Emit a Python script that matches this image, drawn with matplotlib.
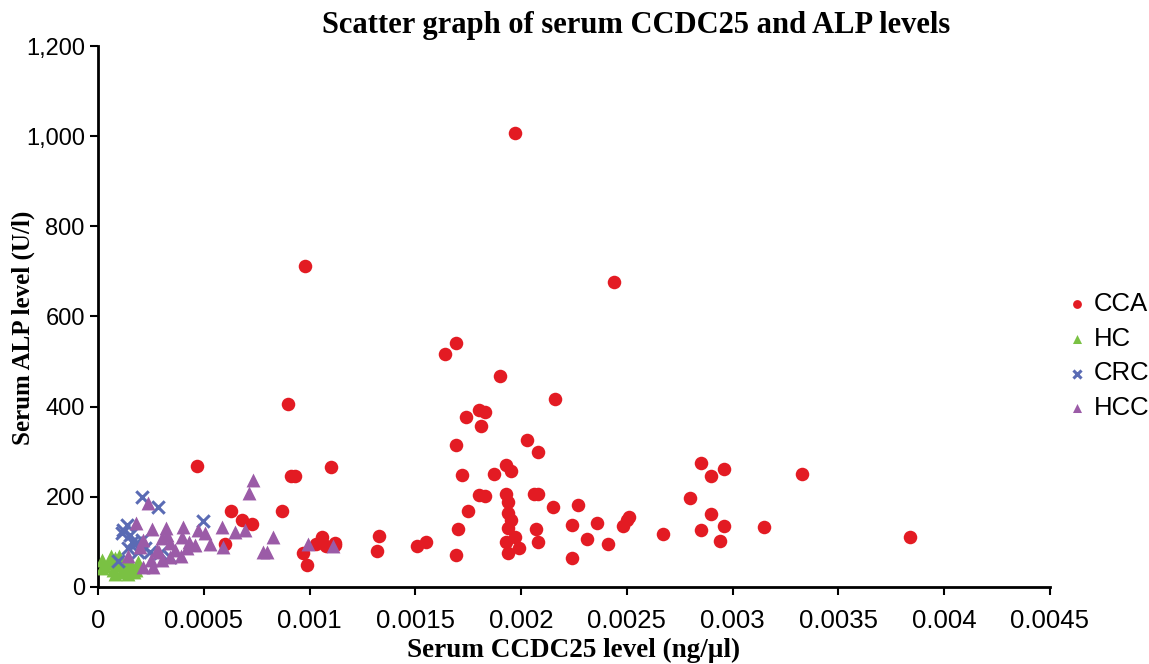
import numpy as np
import matplotlib.pyplot as plt
from matplotlib.ticker import FuncFormatter

# --- data (CCDC25 ng/ul, ALP U/l) ---
cca_x = [0.00197, 0.00098, 0.00244, 0.00164, 0.00169, 0.00190, 0.00216, 0.00090, 0.00174, 0.00180,
         0.00183, 0.00181, 0.00169, 0.00203, 0.00110, 0.00047, 0.00091, 0.00093, 0.00172, 0.00187,
         0.00193, 0.00195, 0.00208, 0.00180, 0.00183, 0.00193, 0.00206, 0.00208, 0.00175, 0.00194,
         0.00215, 0.00227, 0.00087, 0.00063, 0.00068, 0.00073, 0.00060, 0.00097, 0.00099, 0.00106,
         0.00103, 0.00108, 0.00112, 0.00112, 0.00133, 0.00132, 0.00151, 0.00155, 0.00169, 0.00170,
         0.00194, 0.00195, 0.00194, 0.00197, 0.00193, 0.00207, 0.00208, 0.00199, 0.00194, 0.00224,
         0.00231, 0.00224, 0.00236, 0.00241, 0.00248, 0.00250, 0.00251, 0.00267, 0.00280, 0.00285,
         0.00290, 0.00296, 0.00290, 0.00296, 0.00285, 0.00294, 0.00315, 0.00333, 0.00384]
cca_y = [1008, 712, 677, 517, 541, 468, 417, 405, 377, 393,
         388, 357, 315, 326, 266, 268, 246, 246, 248, 251,
         271, 257, 299, 204, 202, 206, 206, 206, 169, 189,
         178, 182, 169, 169, 149, 140, 95, 75, 49, 111,
         96, 91, 98, 93, 113, 80, 91, 100, 71, 129,
         164, 149, 131, 111, 100, 129, 100, 87, 75, 138,
         106, 64, 142, 95, 135, 149, 155, 118, 197, 275,
         246, 262, 162, 135, 126, 102, 133, 251, 111]

hc_x = [0.00002, 0.00003, 0.00005, 0.00007, 0.00008, 0.00009, 0.00010, 0.00011, 0.00013, 0.00014,
        0.00015, 0.00017, 0.00018, 0.00019, 0.00006, 0.00013, 0.00002, 0.00008, 0.00016]
hc_y = [60, 47, 53, 38, 64, 49, 69, 33, 42, 29,
        49, 33, 38, 55, 69, 55, 42, 29, 44]

crc_x = [0.000208, 0.000284, 0.000496, 0.000118, 0.000137, 0.000151, 0.000161, 0.000113, 0.000222,
         0.000246, 0.000189, 0.000095, 0.000293, 0.00034, 0.00018, 0.00014, 0.00021]
crc_y = [200, 177, 146, 126, 137, 115, 100, 120, 87,
         78, 78, 58, 75, 67, 98, 87, 104]

hcc_x = [0.000733, 0.000714, 0.000236, 0.000180, 0.000255, 0.000326, 0.000402, 0.000397, 0.000473,
         0.000506, 0.000586, 0.000648, 0.000695, 0.000591, 0.000780, 0.000799, 0.000213, 0.000260,
         0.000142, 0.000199, 0.000279, 0.000303, 0.000340, 0.000364, 0.000213, 0.000340, 0.000303,
         0.000993, 0.00111, 0.000827, 0.00046, 0.00042, 0.00039, 0.00029, 0.00025, 0.00053,
         0.00032, 0.00043]
hcc_y = [237, 209, 186, 142, 129, 115, 133, 111, 126,
         120, 133, 122, 126, 89, 78, 78, 44, 44,
         69, 89, 82, 60, 67, 82, 104, 98, 109,
         95, 91, 111, 93, 87, 69, 78, 60, 95,
         131, 100]

fig = plt.figure(figsize=(11.49, 6.64), dpi=100)
ax = fig.add_axes([0.0853, 0.116, 0.8285, 0.8147])

ax.scatter(cca_x, cca_y, marker='o', s=95, color='#E31B23', linewidths=0, label='CCA', zorder=3)
ax.scatter(hc_x, hc_y, marker='^', s=100, color='#7AC143', linewidths=0, label='HC', zorder=3)
ax.scatter(crc_x, crc_y, marker='x', s=80, color='#5A6BB4', linewidths=2.2, label='CRC', zorder=3)
ax.scatter(hcc_x, hcc_y, marker='^', s=100, color='#9B5BA7', linewidths=0, label='HCC', zorder=3)

ax.set_xlim(0, 0.0045)
ax.set_ylim(0, 1200)
ax.set_xticks(np.arange(0, 0.00451, 0.0005))
ax.set_yticks(np.arange(0, 1201, 200))
ax.xaxis.set_major_formatter(FuncFormatter(lambda v, p: f"{v:g}" if v > 0 else "0"))
ax.yaxis.set_major_formatter(FuncFormatter(lambda v, p: f"{int(round(v)):,}"))

for side in ['top', 'right']:
    ax.spines[side].set_visible(False)
for side in ['left', 'bottom']:
    ax.spines[side].set_linewidth(2)
    ax.spines[side].set_color('black')
ax.tick_params(axis='both', direction='out', length=6, width=1.5, labelsize=17,
               labelfontfamily='Liberation Sans')
ax.tick_params(axis='x', pad=10, labelsize=18.5)

fig.text(0.554, 0.962, "Scatter graph of serum CCDC25 and ALP levels", fontsize=22, fontweight='bold',
         family='Liberation Serif', ha='center', va='center')
ax.set_xlabel("Serum CCDC25 level (ng/µl)", fontsize=19.5, fontweight='bold', family='Liberation Serif')
ax.xaxis.set_label_coords(0.5, -0.094)
ax.set_ylabel("Serum ALP level (U/l)", fontsize=18, fontweight='bold', family='Liberation Serif')
ax.yaxis.set_label_coords(-0.066, 0.48)

fig.legend(loc='center left', bbox_to_anchor=(0.906, 0.464), frameon=False,
           prop={'family': 'Liberation Sans', 'size': 18.5}, markerscale=0.65,
           handletextpad=0.15, labelspacing=0.42, handlelength=1.0)

fig.savefig('out.png', dpi=100)
